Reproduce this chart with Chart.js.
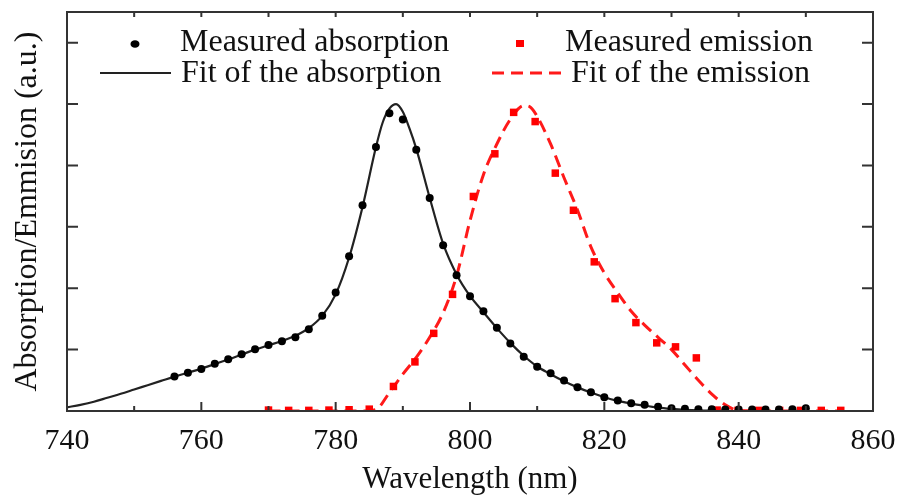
<!DOCTYPE html>
<html lang="en">
<head>
  <meta charset="UTF-8">
  <title>Absorption / emission</title>
  <script src="https://cdn.jsdelivr.net/npm/chart.js"></script>
  <style>
    html, body { margin: 0; padding: 0; background: #fff; }
    #wrap { width: 900px; height: 500px; }
  </style>
</head>
<body>
  <div id="wrap"><canvas id="spec"></canvas></div>

  <script>
    // measured absorption (black dots)
    const absWl  = [756, 758, 760, 762, 764, 766, 768, 770, 772, 774, 776, 778, 780, 782, 784, 786, 788, 790,
                    792, 794, 796, 798, 800, 802, 804, 806, 808, 810, 812, 814, 816, 818, 820, 822, 824, 826,
                    828, 830, 832, 834, 836, 838, 840, 842, 844, 846, 848, 850];
    const absVal = [0.112, 0.125, 0.137, 0.154, 0.169, 0.185, 0.201, 0.215, 0.227, 0.240, 0.266, 0.310, 0.386, 0.504,
                    0.670, 0.860, 0.970, 0.950, 0.851, 0.694, 0.540, 0.442, 0.374, 0.325, 0.271, 0.220, 0.177, 0.144,
                    0.123, 0.099, 0.077, 0.061, 0.045, 0.034, 0.025, 0.020, 0.014, 0.009, 0.007, 0.006, 0.006, 0.005,
                    0.005, 0.005, 0.005, 0.005, 0.006, 0.009];

    // fit of the absorption (solid line)
    const absFitWl  = [740, 742, 744, 746, 748, 750, 752, 754, 756, 758, 760, 762, 764, 766, 768, 770, 772, 774, 776,
                       778, 780, 782, 784, 786, 787, 788, 789, 790, 791, 792, 794, 796, 798, 800, 802, 804, 806, 808,
                       810, 812, 814, 816, 818, 820, 822, 824, 826, 828, 830, 832, 834, 836, 840, 850];
    const absFitVal = [0.012, 0.020, 0.030, 0.043, 0.056, 0.070, 0.084, 0.098, 0.112, 0.125, 0.138, 0.153, 0.168, 0.184,
                       0.200, 0.214, 0.228, 0.245, 0.270, 0.310, 0.380, 0.500, 0.665, 0.860, 0.940, 0.985, 1.000, 0.975,
                       0.920, 0.855, 0.695, 0.545, 0.445, 0.375, 0.322, 0.270, 0.222, 0.180, 0.145, 0.120, 0.097, 0.077,
                       0.060, 0.045, 0.033, 0.024, 0.017, 0.011, 0.007, 0.004, 0.002, 0.001, 0, 0];

    // measured emission (red squares)
    const emiWl  = [770, 773, 776, 779, 782, 785, 788.6, 791.8, 794.6, 797.4, 800.5, 803.7, 806.5, 809.7, 812.7,
                    815.4, 818.5, 821.6, 824.7, 827.8, 830.6, 833.7, 836.8, 839.9, 843, 846.1, 849.2, 852.3, 855.2];
    const emiVal = [0.003, 0.002, 0.002, 0.003, 0.004, 0.006, 0.080, 0.160, 0.253, 0.380, 0.699, 0.838, 0.973, 0.943,
                    0.775, 0.654, 0.486, 0.366, 0.288, 0.222, 0.209, 0.173, 0.003, 0.002, 0.002, 0.002, 0.002, 0.002, 0.002];

    // fit of the emission (dashed line)
    const emiFitWl  = [770, 775, 780, 784, 786, 788, 790, 792, 794, 796, 798, 800, 802, 804, 806, 808, 809, 810, 812,
                       814, 816, 818, 820, 822, 824, 826, 828, 830, 832, 834, 836, 838, 840, 845, 850, 855];
    const emiFitVal = [0, 0, 0, 0, 0.005, 0.060, 0.120, 0.175, 0.240, 0.320, 0.440, 0.620, 0.770, 0.870, 0.950, 0.995,
                       0.990, 0.960, 0.870, 0.760, 0.655, 0.535, 0.450, 0.385, 0.325, 0.280, 0.240, 0.200, 0.150, 0.100,
                       0.055, 0.020, 0.002, 0, 0, 0];

    const xMinorTicks = [750, 770, 790, 810, 830, 850];
    const xMajorTicks = [760, 780, 800, 820, 840];
    const yTicks = [0.2, 0.4, 0.6, 0.8, 1.0, 1.2];

    const serif = "'Liberation Serif', 'Times New Roman', serif";

    function pts(xs, ys) {
      return xs.map((x, i) => ({ x: x, y: ys[i] }));
    }

    // frame with ticks pointing inwards, like the original plot
    const framePlugin = {
      id: 'frame',
      afterDatasetsDraw(chart) {
        const { ctx, chartArea: a, scales } = chart;
        const xs = scales.x, ys = scales.y;
        ctx.save();
        ctx.strokeStyle = '#333';
        ctx.lineWidth = 2;
        ctx.strokeRect(a.left, a.top, a.right - a.left, a.bottom - a.top);
        ctx.beginPath();
        xMajorTicks.forEach(v => {
          const px = xs.getPixelForValue(v);
          ctx.moveTo(px, a.bottom); ctx.lineTo(px, a.bottom - 9);
          ctx.moveTo(px, a.top); ctx.lineTo(px, a.top + 5);
        });
        xMinorTicks.forEach(v => {
          const px = xs.getPixelForValue(v);
          ctx.moveTo(px, a.bottom); ctx.lineTo(px, a.bottom - 5);
          ctx.moveTo(px, a.top); ctx.lineTo(px, a.top + 5);
        });
        yTicks.forEach(v => {
          const py = ys.getPixelForValue(v);
          ctx.moveTo(a.left, py); ctx.lineTo(a.left + 11, py);
          ctx.moveTo(a.right, py); ctx.lineTo(a.right - 11, py);
        });
        ctx.stroke();
        ctx.restore();
      }
    };

    // 2x2 legend inside the plot
    const legendPlugin = {
      id: 'legend2x2',
      afterDraw(chart) {
        const ctx = chart.ctx;
        const ds = chart.data.datasets;
        ctx.save();
        ctx.font = '32px ' + serif;
        ctx.fillStyle = '#111';
        ctx.textBaseline = 'alphabetic';
        ctx.textAlign = 'left';

        // measured absorption
        ctx.beginPath();
        ctx.fillStyle = '#000';
        ctx.ellipse(135, 44, 4.5, 3.8, 0, 0, Math.PI * 2);
        ctx.fill();
        ctx.fillStyle = '#111';
        ctx.fillText(ds[0].label, 180, 51);

        // fit of the absorption
        ctx.beginPath();
        ctx.strokeStyle = '#222';
        ctx.lineWidth = 2.2;
        ctx.moveTo(100, 73); ctx.lineTo(171, 73);
        ctx.stroke();
        ctx.fillText(ds[1].label, 181, 82);

        // measured emission
        ctx.fillStyle = '#ff0000';
        ctx.fillRect(516, 40, 8, 7);
        ctx.fillStyle = '#111';
        ctx.fillText(ds[2].label, 565, 51);

        // fit of the emission
        ctx.beginPath();
        ctx.strokeStyle = '#ff1a1a';
        ctx.lineWidth = 3;
        ctx.setLineDash([12, 7]);
        ctx.moveTo(492, 73); ctx.lineTo(565, 73);
        ctx.stroke();
        ctx.setLineDash([]);
        ctx.fillText(ds[3].label, 571, 82);
        ctx.restore();
      }
    };

    const ctx = document.getElementById('spec').getContext('2d');
    const specChart = new Chart(ctx, {
      type: 'scatter',
      data: {
        datasets: [
          {
            label: 'Measured absorption',
            data: pts(absWl, absVal),
            pointStyle: 'circle',
            pointRadius: 4,
            backgroundColor: '#000',
            borderColor: '#000',
            borderWidth: 0,
            order: 0
          },
          {
            label: 'Fit of the absorption',
            data: pts(absFitWl, absFitVal),
            showLine: true,
            pointRadius: 0,
            borderColor: '#222',
            borderWidth: 2.2,
            cubicInterpolationMode: 'monotone',
            order: 2
          },
          {
            label: 'Measured emission',
            data: pts(emiWl, emiVal),
            pointStyle: 'rect',
            pointRadius: 5.3,
            backgroundColor: '#ff0000',
            borderColor: '#ff0000',
            borderWidth: 0,
            order: 1
          },
          {
            label: 'Fit of the emission',
            data: pts(emiFitWl, emiFitVal),
            showLine: true,
            pointRadius: 0,
            borderColor: '#ff1a1a',
            borderWidth: 3,
            borderDash: [12, 7],
            cubicInterpolationMode: 'monotone',
            order: 3
          }
        ]
      },
      options: {
        responsive: true,
        maintainAspectRatio: false,
        animation: false,
        layout: { padding: { top: 12, right: 27, left: 0, bottom: 0 } },
        plugins: {
          legend: { display: false },
          tooltip: { enabled: false }
        },
        scales: {
          x: {
            type: 'linear',
            min: 740,
            max: 860,
            grid: { display: false, drawTicks: false },
            border: { display: false },
            ticks: {
              stepSize: 20,
              padding: 12,
              color: '#111',
              font: { family: serif, size: 30 }
            },
            title: {
              display: true,
              text: 'Wavelength (nm)',
              color: '#111',
              font: { family: serif, size: 31 },
              padding: { top: 0, bottom: 2 }
            },
            afterFit: s => { s.height = 89; s.paddingLeft = 0; s.paddingRight = 0; }
          },
          y: {
            type: 'linear',
            min: 0,
            max: 1.3,
            grid: { display: false, drawTicks: false },
            border: { display: false },
            ticks: { display: false },
            title: {
              display: true,
              text: 'Absorption/Emmision (a.u.)',
              color: '#111',
              font: { family: serif, size: 32 },
              padding: { top: 8, bottom: 0 }
            },
            afterFit: s => { s.width = 67; s.paddingTop = 0; s.paddingBottom = 0; }
          }
        }
      },
      plugins: [framePlugin, legendPlugin]
    });
  </script>
</body>
</html>
